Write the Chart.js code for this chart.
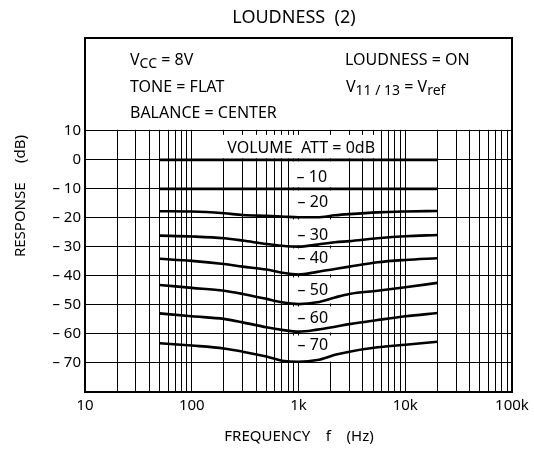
<!DOCTYPE html>
<html>
<head>
<meta charset="utf-8">
<script src="https://cdn.jsdelivr.net/npm/chart.js@4.4.1/dist/chart.umd.min.js"></script>
<style>
  html, body { margin: 0; padding: 0; background: #fff; }
</style>
</head>
<body>
<canvas id="loudnessChart" width="534" height="451"></canvas>
<script>

const freqs = [50, 100, 200, 300, 500, 700, 1000, 1500, 2200, 3000, 5500, 10000, 20000];

const att0  = [0, 0, 0, 0, 0, 0, 0, 0, 0, 0, 0, 0, 0];
const att10 = [-10, -10, -10, -10, -10, -10, -10, -10, -10, -10, -10, -10, -10];
const att20 = [-17.7, -17.8, -18.4, -19.0, -19.3, -19.5, -19.8, -19.8, -19.1, -18.7, -18.1, -17.8, -17.6];
const att30 = [-26.1, -26.4, -27.0, -27.8, -29.0, -29.6, -29.9, -29.2, -28.4, -28.0, -27.0, -26.3, -25.9];
const att40 = [-34.1, -34.8, -35.9, -36.8, -37.8, -38.9, -39.5, -38.6, -37.6, -36.8, -35.3, -34.5, -33.9];
const att50 = [-43.1, -44.1, -45.1, -46.2, -47.9, -49.1, -49.7, -49.1, -47.4, -46.2, -45.1, -43.9, -42.4];
const att60 = [-52.9, -53.9, -54.8, -56.0, -57.7, -58.6, -59.2, -58.5, -57.5, -56.6, -55.2, -53.9, -52.8];
const att70 = [-63.2, -64.0, -65.0, -66.1, -67.8, -69.2, -69.6, -69.0, -67.2, -66.1, -64.6, -63.7, -62.7];

const curveLabels = ['VOLUME  ATT = 0dB', '\u2013 10', '\u2013 20', '\u2013 30', '\u2013 40', '\u2013 50', '\u2013 60', '\u2013 70'];

const xTicks = [10, 20, 30, 40, 50, 60, 70, 80, 90,
                100, 200, 300, 400, 500, 600, 700, 800, 900,
                1000, 2000, 3000, 4000, 5000, 6000, 7000, 8000, 9000,
                10000, 20000, 30000, 40000, 50000, 60000, 70000, 80000, 90000, 100000];
const xTickLabels = { 10: '10', 100: '100', 1000: '1k', 10000: '10k', 100000: '100k' };
const yTicks = [-80, -70, -60, -50, -40, -30, -20, -10, 0, 10];

const FONT = '"Noto Sans", "Open Sans", sans-serif';

// where the curve labels sit (frequency, dB)
const labelSpots = [[1060, 3.9], [960, -6.2], [980, -14.6], [980, -26.1],
                    [980, -34.1], [980, -45.1], [980, -54.8], [980, -64.0]];

function toPoints(vals) {
    return vals.map(function(v, i) { return { x: freqs[i], y: v }; });
}

function curve(vals) {
    return {
        data: toPoints(vals),
        borderColor: '#000',
        borderWidth: 2.6,
        pointRadius: 0,
        fill: false,
        cubicInterpolationMode: 'monotone'
    };
}

// text with lowered (subscript) pieces
function drawParts(ctx, parts, x, y) {
    parts.forEach(function(p) {
        ctx.font = (p[1] ? '14px ' : '16px ') + FONT;
        ctx.fillText(p[0], x, p[1] ? y + 4 : y);
        x += ctx.measureText(p[0]).width;
    });
}

const overlay = {
    id: 'overlay',
    beforeDatasetsDraw(chart) {
        const ctx = chart.ctx, a = chart.chartArea;
        const x = chart.scales.x, y = chart.scales.y;
        const y10 = y.getPixelForValue(10);
        const y0 = y.getPixelForValue(0);
        ctx.save();
        ctx.fillStyle = '#fff';
        // condition box above the grid
        ctx.fillRect(a.left + 1, a.top, a.right - a.left - 2, y10 - a.top - 1);
        // behind "VOLUME ATT = 0dB"
        const vl = x.getPixelForValue(110), vr = x.getPixelForValue(5500);
        ctx.fillRect(vl, y10 + 4, vr - vl, y0 - y10 - 5.5);
        // column behind the -10 ... -70 labels
        const cl = x.getPixelForValue(850), cr = x.getPixelForValue(2300);
        for (let v = 0; v > -70; v -= 10) {
            const t = y.getPixelForValue(v), b = y.getPixelForValue(v - 10);
            ctx.fillRect(cl, t + 1.5, cr - cl, b - t - 3);
        }
        ctx.restore();
    },
    afterDatasetsDraw(chart) {
        const ctx = chart.ctx, a = chart.chartArea;
        const x = chart.scales.x, y = chart.scales.y;
        ctx.save();
        ctx.fillStyle = '#000';
        ctx.textBaseline = 'middle';
        ctx.font = '16px ' + FONT;
        curveLabels.forEach(function(txt, i) {
            ctx.textAlign = i === 0 ? 'center' : 'left';
            ctx.fillText(txt, x.getPixelForValue(labelSpots[i][0]), y.getPixelForValue(labelSpots[i][1]));
        });

        // frame
        ctx.strokeStyle = '#000';
        ctx.lineWidth = 2;
        ctx.strokeRect(a.left, a.top, a.right - a.left, a.bottom - a.top);

        // conditions
        ctx.textAlign = 'left';
        drawParts(ctx, [['V', 0], ['CC', 1], [' = 8V', 0]], 130, 60);
        drawParts(ctx, [['TONE = FLAT', 0]], 130, 87);
        drawParts(ctx, [['BALANCE = CENTER', 0]], 130, 113);
        drawParts(ctx, [['LOUDNESS = ON', 0]], 345, 60);
        drawParts(ctx, [['V', 0], ['11 / 13', 1], [' = V', 0], ['ref', 1]], 346, 87);

        // title and axis titles
        ctx.textAlign = 'center';
        ctx.font = '18px ' + FONT;
        ctx.fillText('LOUDNESS  (2)', 294, 18);
        ctx.font = '15px ' + FONT;
        ctx.fillText('FREQUENCY    f    (Hz)', 299, 437);
        ctx.translate(21, 196);
        ctx.rotate(-Math.PI / 2);
        ctx.fillText('RESPONSE     (dB)', 0, 0);
        ctx.restore();
    }
};

new Chart(document.getElementById('loudnessChart'), {
    type: 'line',
    data: {
        datasets: [curve(att0), curve(att10), curve(att20), curve(att30),
                   curve(att40), curve(att50), curve(att60), curve(att70)]
    },
    options: {
        responsive: false,
        animation: false,
        layout: { padding: { top: 38, right: 22, left: 0, bottom: 0 } },
        plugins: {
            legend: { display: false },
            tooltip: { enabled: false },
            title: { display: false }
        },
        scales: {
            x: {
                type: 'logarithmic',
                min: 10,
                max: 100000,
                afterBuildTicks: function(s) { s.ticks = xTicks.map(function(v) { return { value: v }; }); },
                afterFit: function(s) { s.height = 59; },
                border: { display: false },
                grid: { color: '#000', lineWidth: 1, drawTicks: false },
                ticks: {
                    autoSkip: false,
                    maxRotation: 0,
                    padding: 5,
                    color: '#000',
                    font: { family: FONT, size: 15 },
                    callback: function(v) { return xTickLabels[v] || ''; }
                }
            },
            y: {
                type: 'linear',
                min: -80,
                max: 42,
                afterBuildTicks: function(s) { s.ticks = yTicks.map(function(v) { return { value: v }; }); },
                afterFit: function(s) { s.width = 85; },
                border: { display: false },
                grid: { color: '#000', lineWidth: 1, drawTicks: false },
                ticks: {
                    padding: 4,
                    color: '#000',
                    font: { family: FONT, size: 15 },
                    callback: function(v) {
                        if (v === -80) return '';
                        return v < 0 ? '\u2013 ' + (-v) : String(v);
                    }
                }
            }
        }
    },
    plugins: [overlay]
});
</script>
</body>
</html>
